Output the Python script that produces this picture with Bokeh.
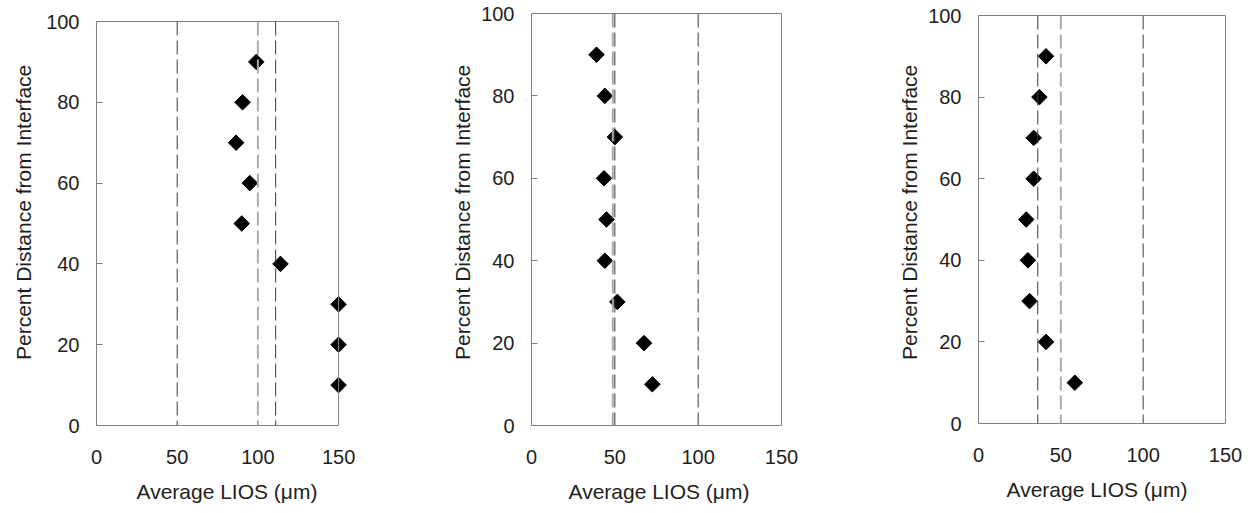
import numpy as np
from bokeh.plotting import figure
from bokeh.models import Range1d, FixedTicker, Span, Title, LinearAxis
from bokeh.layouts import row, column
from bokeh.embed import file_html
from bokeh.resources import INLINE

# ---------------- data ----------------
pct_distance = [90, 80, 70, 60, 50, 40, 30, 20, 10]
lios_panel_a = [99, 90.5, 86.5, 95, 90, 114, 150, 150, 150]
lios_panel_b = [39, 44, 50, 43.5, 45, 44, 51.5, 67.5, 72.5]
lios_panel_c = [41, 37, 33.5, 33.5, 29, 30, 31, 41, 58.5]

# reference (dashed) lines per panel
ref_dark_a = [50, 111]
ref_light_a = [100]
ref_dark_b = [50, 100]
ref_light_b = [48.8]
ref_dark_c = [36, 100]
ref_light_c = [50]

x_ticks = [0, 50, 100, 150]
y_ticks = [0, 20, 40, 60, 80, 100]
x_label = "Average LIOS (\u03bcm)"
y_label = "Percent  Distance from Interface"

FONT = "Liberation Sans"
TXT = "#1e1e1e"
FRAME = "#808080"


def make_panel(lios, dark, light, left, top, w150, frame_h, xlab_off, ylab_off, ylab_standoff):
    W, H = 420, 513
    extra = 20
    right = W - left - w150 - extra
    bottom = H - top - frame_h
    x_end = 150 * (w150 + extra) / w150
    p = figure(width=W, height=H, output_backend="svg", toolbar_location=None,
               x_range=Range1d(0, x_end), y_range=Range1d(0, 100),
               min_border_left=left, min_border_right=right,
               min_border_top=top, min_border_bottom=bottom,
               background_fill_color="white", border_fill_color="white")
    p.outline_line_color = None
    p.grid.visible = False

    xa = p.xaxis[0]
    xa.ticker = FixedTicker(ticks=x_ticks)
    xa.bounds = (0, 150)
    xa.axis_line_color = FRAME
    xa.major_tick_in = 0
    xa.major_tick_out = 0
    xa.minor_tick_line_color = None
    xa.major_label_standoff = 24
    xa.major_label_text_font = FONT
    xa.major_label_text_font_size = "20px"
    xa.major_label_text_color = TXT

    ya = p.yaxis[0]
    ya.ticker = FixedTicker(ticks=y_ticks)
    ya.axis_line_color = FRAME
    ya.major_tick_in = 6
    ya.major_tick_out = 0
    ya.major_tick_line_color = FRAME
    ya.minor_tick_line_color = None
    ya.major_label_standoff = 17
    ya.major_label_text_font = FONT
    ya.major_label_text_font_size = "20px"
    ya.major_label_text_color = TXT

    # top border
    ta = LinearAxis(ticker=FixedTicker(ticks=[]), bounds=(0, 150),
                    axis_line_color=FRAME, major_tick_in=0, major_tick_out=0,
                    minor_tick_line_color=None, major_label_standoff=0)
    p.add_layout(ta, "above")
    # right border
    p.add_layout(Span(location=150, dimension="height", line_color=FRAME, line_width=1))

    for v in light:
        p.add_layout(Span(location=v, dimension="height", line_color="#ababab",
                          line_width=2, line_dash="14 5"))
    for v in dark:
        p.add_layout(Span(location=v, dimension="height", line_color="#3c3c3c",
                          line_width=1, line_dash="14 5"))

    p.scatter(x=lios, y=pct_distance, marker="square", angle=np.pi / 4,
              size=11, fill_color="black", line_color="black")

    p.add_layout(Title(text=x_label, align="left", offset=xlab_off,
                       text_font=FONT, text_font_size="21px", text_font_style="normal",
                       text_color=TXT, standoff=22), "below")
    p.add_layout(Title(text=y_label, align="left", offset=ylab_off,
                       text_font=FONT, text_font_size="21px", text_font_style="normal",
                       text_color=TXT, standoff=ylab_standoff), "left")
    return p


pa = make_panel(lios_panel_a, ref_dark_a, ref_light_a, 95, 21, 243, 404, 40, 65.5, 18)
pb = make_panel(lios_panel_b, ref_dark_b, ref_light_b, 111, 13, 250, 414, 37, 65.5, 10)
pc = make_panel(lios_panel_c, ref_dark_c, ref_light_c, 138, 15, 247, 408, 28, 63.5, 10)

layout = row(column(pa), column(pb), column(pc), spacing=0)
open("out.html", "w").write(file_html(layout, INLINE))
